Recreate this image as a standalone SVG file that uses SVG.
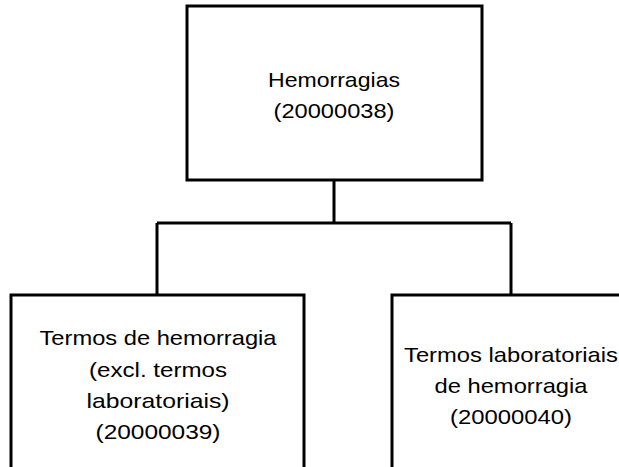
<svg xmlns="http://www.w3.org/2000/svg" width="619" height="467" viewBox="0 0 619 467">
<style>
.box{fill:#fff;stroke:#000;stroke-width:3}
.con{fill:none;stroke:#000;stroke-width:3}
text{font-family:"Liberation Sans",Arial,sans-serif;font-size:21px;fill:#000;text-anchor:middle}
</style>
<rect width="619" height="467" fill="#fff"/>
<g id="connectors">
<path class="con" d="M334,180 V223 M157,223 H511 M157,223 V295 M511,223 V295"/>
</g>
<g id="n-top">
<rect class="box" x="187" y="6" width="295" height="174"/>
<text x="334" y="87" textLength="132" lengthAdjust="spacingAndGlyphs">Hemorragias</text>
<text x="334" y="118" textLength="121" lengthAdjust="spacingAndGlyphs">(20000038)</text>
</g>
<g id="n-left">
<rect class="box" x="11" y="295" width="293" height="180"/>
<text x="158" y="345" textLength="237" lengthAdjust="spacingAndGlyphs">Termos de hemorragia</text>
<text x="158" y="377" textLength="138" lengthAdjust="spacingAndGlyphs">(excl. termos</text>
<text x="158" y="408" textLength="143" lengthAdjust="spacingAndGlyphs">laboratoriais)</text>
<text x="158" y="439" textLength="125" lengthAdjust="spacingAndGlyphs">(20000039)</text>
</g>
<g id="n-right">
<rect class="box" x="392" y="295" width="293" height="180"/>
<text x="511" y="362" textLength="214" lengthAdjust="spacingAndGlyphs">Termos laboratoriais</text>
<text x="511" y="393" textLength="153" lengthAdjust="spacingAndGlyphs">de hemorragia</text>
<text x="511" y="424" textLength="122" lengthAdjust="spacingAndGlyphs">(20000040)</text>
</g>
</svg>
